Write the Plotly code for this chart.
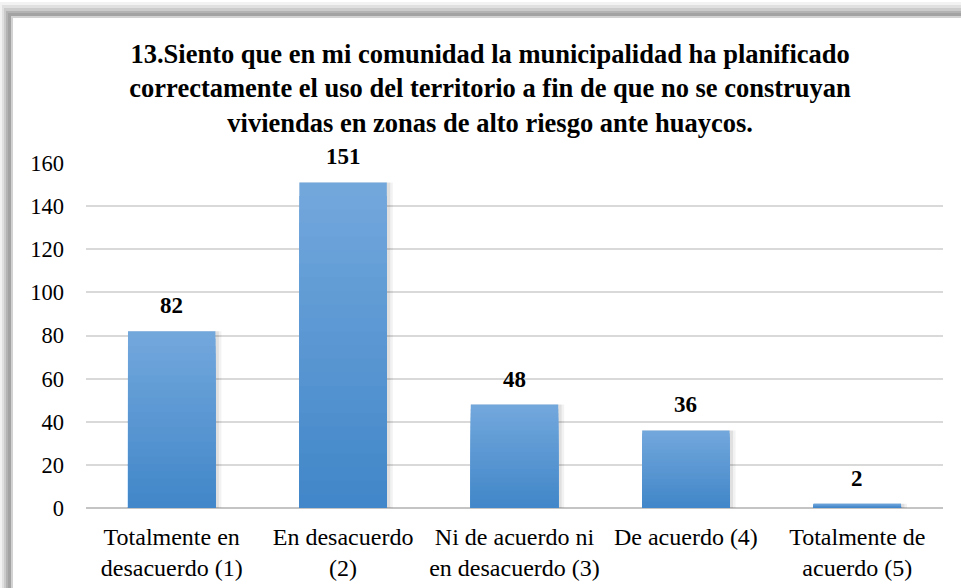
import plotly.graph_objects as go

# Survey responses, question 13
categories = [
    "Totalmente en<br>desacuerdo (1)",
    "En desacuerdo<br>(2)",
    "Ni de acuerdo ni<br>en desacuerdo (3)",
    "De acuerdo (4)",
    "Totalmente de<br>acuerdo (5)",
]
counts = [82, 151, 48, 36, 2]
y_ticks = [0, 20, 40, 60, 80, 100, 120, 140, 160]

title_lines = [
    "13.Siento que en mi comunidad la municipalidad ha planificado",
    "correctamente el uso del territorio a fin de que no se construyan",
    "viviendas en zonas de alto riesgo ante huaycos.",
]

W, H = 961, 588
M_L, M_R, M_T, M_B = 86, 18, 163, 80
SERIF = "Liberation Serif"
BAR_W = 0.51

fig = go.Figure()

# Soft drop shadow behind the bars
for extra, alpha in [(0.035, 0.05), (0.02, 0.07)]:
    fig.add_trace(go.Bar(
        x=categories, y=counts, width=BAR_W + extra, offset=-BAR_W / 2,
        marker=dict(color="rgba(0,0,0,%.2f)" % alpha, line=dict(width=0)),
        hoverinfo="skip", showlegend=False,
    ))

# Vertical gradient on each bar: stack progressively shorter, darker bars
top_rgb = (114, 167, 220)
bot_rgb = (66, 135, 201)
steps = 24
for k in range(steps):
    f = 1 - k / steps
    t = k / (steps - 1)
    c = tuple(round(a + (b - a) * t) for a, b in zip(top_rgb, bot_rgb))
    fig.add_trace(go.Bar(
        x=categories,
        y=[v * f for v in counts],
        width=BAR_W, offset=-BAR_W / 2,
        marker=dict(color="rgb(%d,%d,%d)" % c, line=dict(width=0)),
        hoverinfo="skip",
        showlegend=False,
    ))

# Value labels above bars
for cat, v in zip(categories, counts):
    fig.add_annotation(
        x=cat, y=v, text="<b>%d</b>" % v, showarrow=False,
        yanchor="bottom", yshift=11,
        font=dict(family=SERIF, size=23, color="#000000"),
    )


def px_x(p):
    return (p - M_L) / (W - M_L - M_R)


def px_y(p):
    return 1 - (p - M_T) / (H - M_T - M_B)


# Card frame with soft shadow along the top and left edges
frame_layers = [
    (0, 2, "#f2f2f2"),
    (2, 5, "#e0e0e0"),
    (4, 8, "#cbcbcb"),
    (6, 11, "#b3b3b3"),
    (8, 13, "#a3a3a3"),
    (11, 16, "#d2d2d2"),
    (13, 18, "#ffffff"),
]
for x0, y0, col in frame_layers:
    fig.add_shape(
        type="rect", xref="paper", yref="paper",
        x0=px_x(x0), x1=px_x(W + 40), y0=px_y(y0), y1=px_y(H + 40),
        fillcolor=col, line=dict(width=0), layer="below",
    )

fig.update_layout(
    width=W, height=H,
    margin=dict(l=M_L, r=M_R, t=M_T, b=M_B, autoexpand=False),
    paper_bgcolor="#ffffff",
    plot_bgcolor="rgba(0,0,0,0)",
    barmode="overlay",
    title=dict(
        text="<b>" + "<br>".join(title_lines) + "</b>",
        x=0.51, xanchor="center", xref="container",
        y=1 - 63 / H, yanchor="middle", yref="container",
        font=dict(family=SERIF, size=26.5, color="#000000"),
    ),
    font=dict(family=SERIF, color="#000000"),
)

fig.update_xaxes(
    showgrid=False, showline=False, ticks="", automargin=False,
    tickfont=dict(family=SERIF, size=24, color="#000000"),
    ticklabelstandoff=12,
)
fig.update_yaxes(
    range=[0, 160], tickvals=y_ticks, automargin=False,
    showgrid=True, gridcolor="#d9d9d9", gridwidth=1.5,
    zeroline=True, zerolinecolor="#c4c4c4", zerolinewidth=2,
    showline=False, ticks="",
    tickfont=dict(family=SERIF, size=22.5, color="#000000"),
    ticklabelstandoff=21,
)

fig.write_html("out.html")
